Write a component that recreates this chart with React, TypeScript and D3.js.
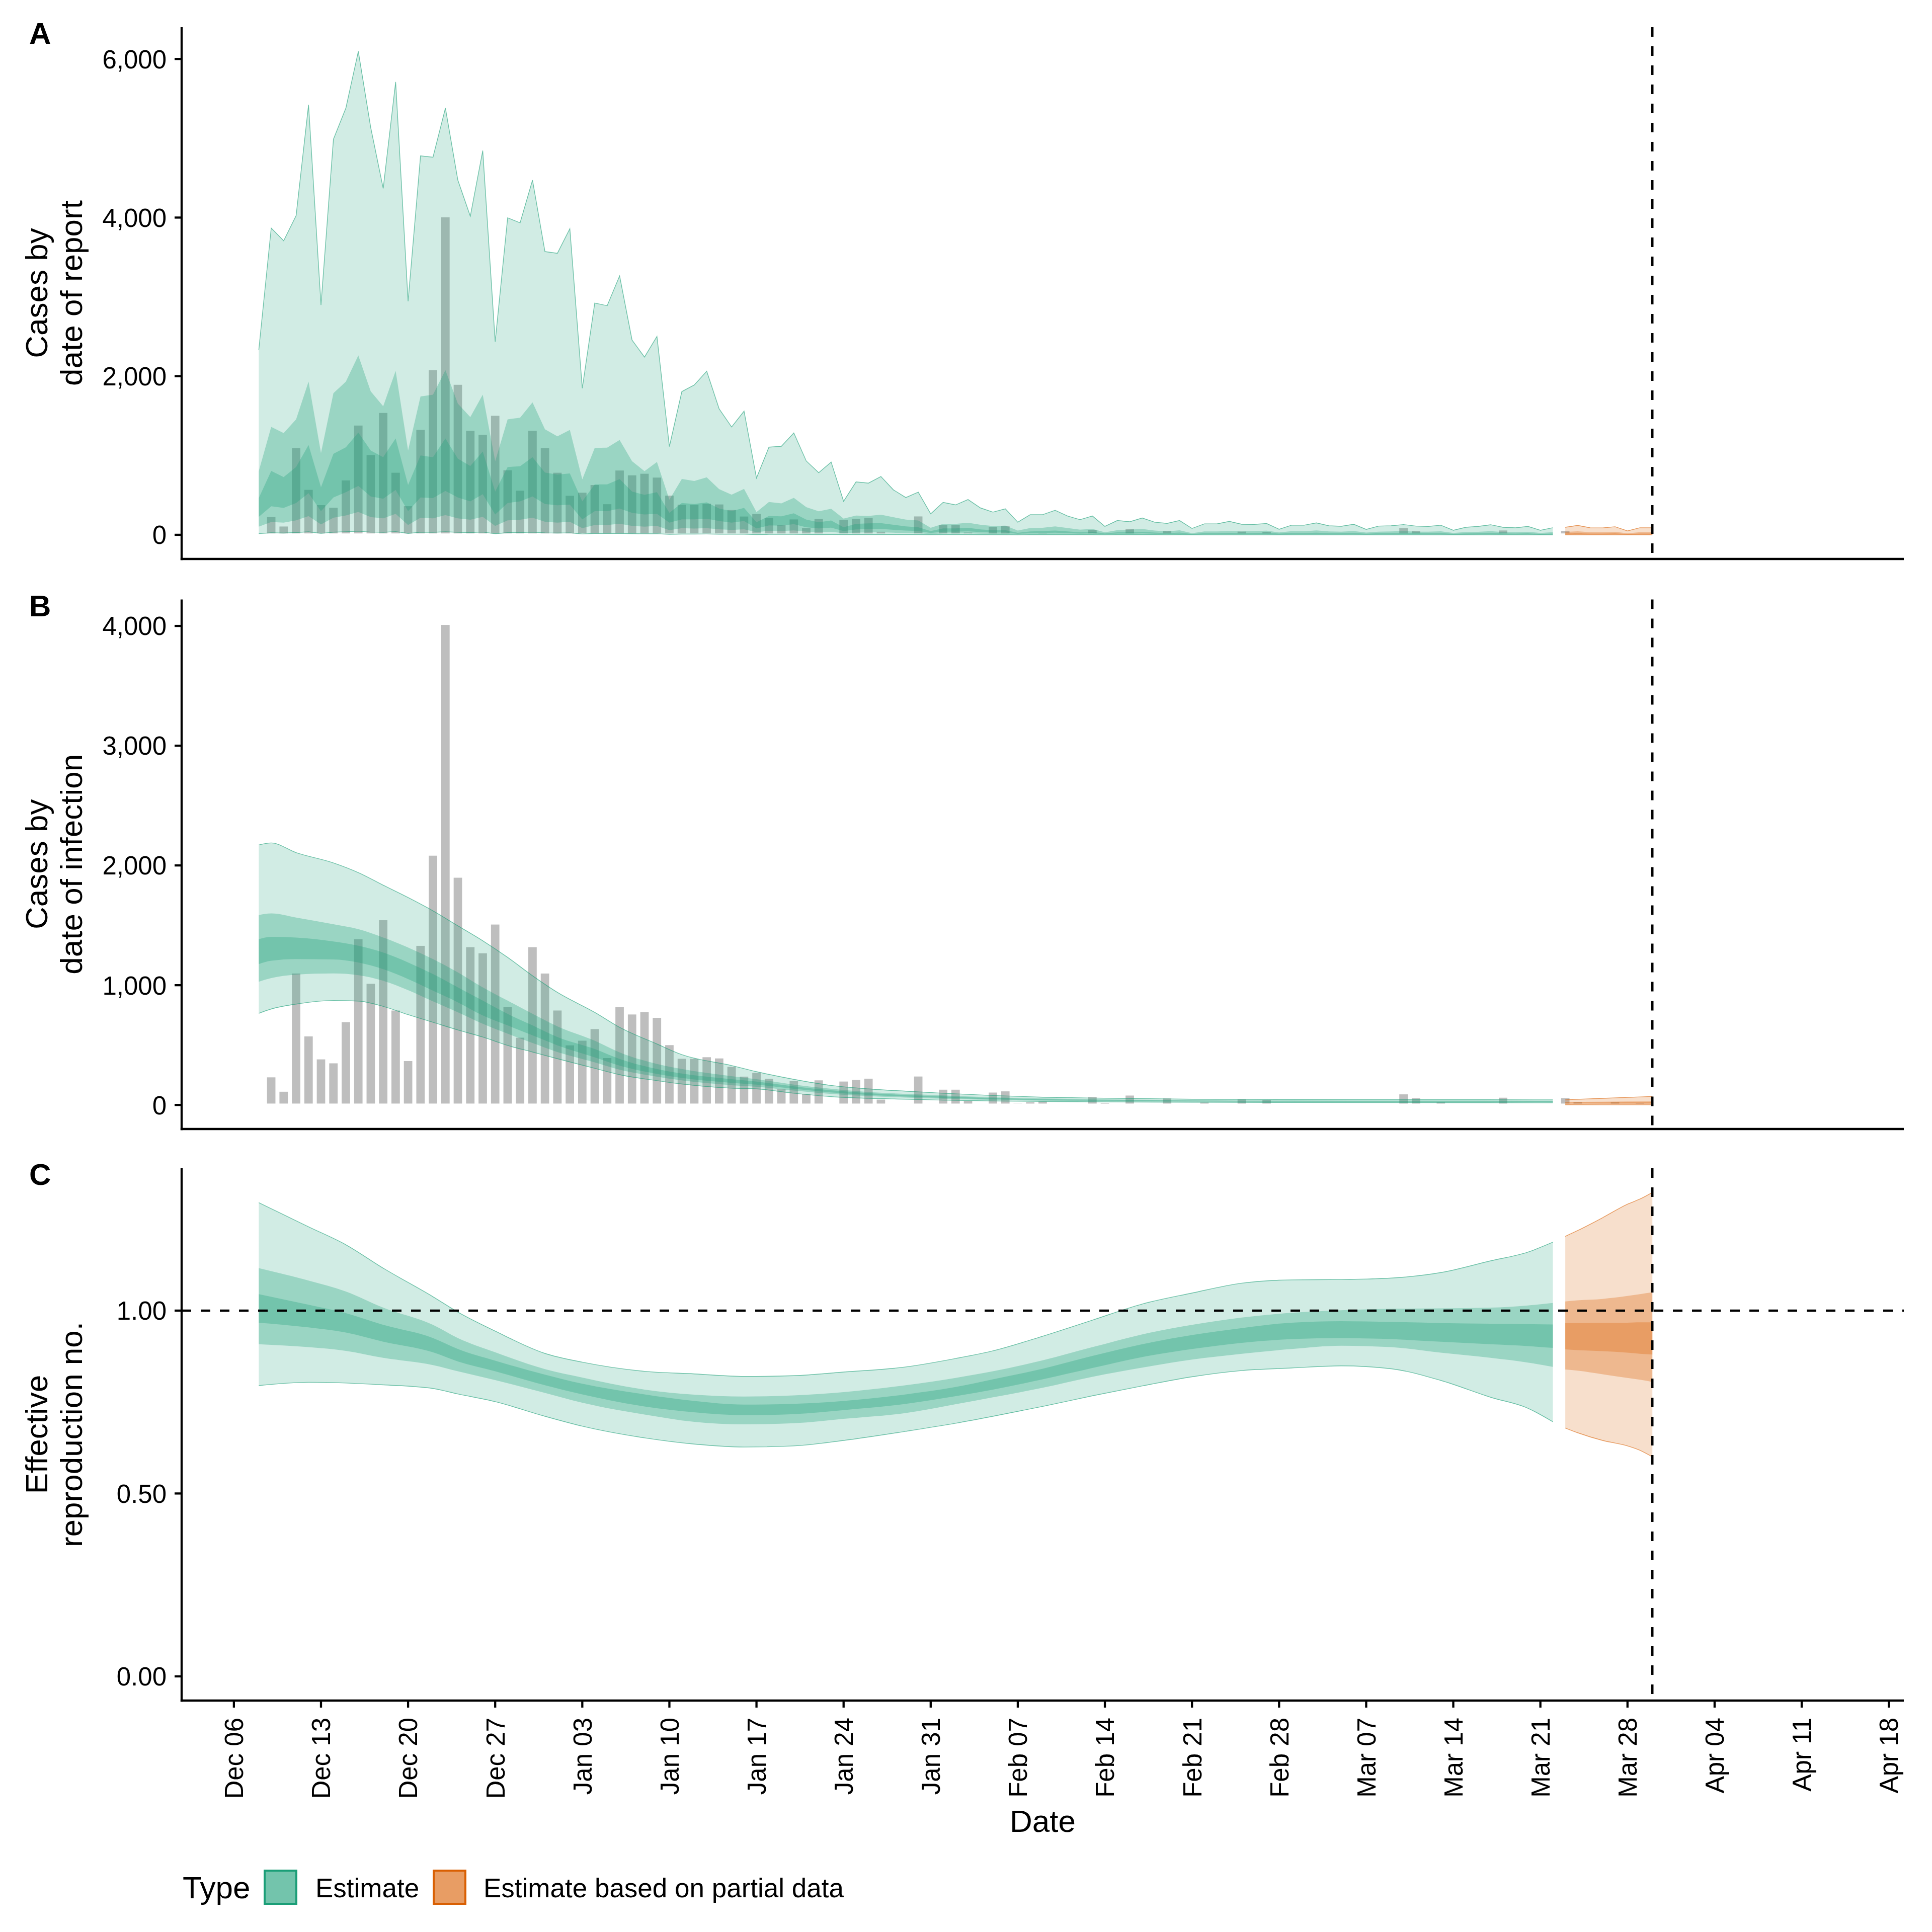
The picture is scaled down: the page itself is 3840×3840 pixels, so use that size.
import * as d3 from 'd3';

// ---- data ---------------------------------------------------------------

// confirmed cases by date of report (grey bars), one value per day from 2020-12-09
const reportStart = '2020-12-09';
const reportedCases = [
  242, 122, 1109, 584, 392, 359, 703, 1395, 1023, 1554, 800, 378, 1340, 2093, 4020, 1909,
  1329, 1278, 1518, 831, 573, 1329, 1109, 800, 509, 548, 645, 403, 828, 767, 787, 739,
  511, 397, 397, 410, 400, 330, 248, 280, 230, 143, 211, 102, 217, 12, 207, 220, 231, 56,
  0, 0, 249, 0, 139, 139, 46, 0, 115, 125, 24, 34, 40, 16, 0, 0, 78, 29, 0, 90, 0, 0, 66,
  4, 0, 32, 15, 8, 58, 0, 54, 8, 20, 0, 13, 0, 15, 0, 0, 0, 0, 100, 67, 15, 34, 0, 21, 0,
  0, 72, 0, 0, 0, 0, 68, 36, 0, 0, 35, 0, 28,
];

// panel A: cases by date of report, "Estimate", daily from 2020-12-08
const repStart = '2020-12-08';
const repUpper90 = [
  2331, 3868, 3708, 4025, 5422, 2897, 4988, 5381, 6096, 5133, 4368, 5711, 2943, 4778, 4761,
  5381, 4472, 4017, 4844, 2435, 3997, 3934, 4472, 3571, 3550, 3860, 1848, 2922, 2889, 3265,
  2455, 2241, 2501, 1113, 1806, 1889, 2063, 1588, 1360, 1559,
  716, 1105, 1116, 1285, 931, 783, 917, 423, 667, 652, 735, 567, 470, 538, 265, 409, 377,
  445, 339, 286, 328, 159, 254, 254, 309, 237, 191, 237, 106, 180, 165, 212, 159, 144, 180,
  80, 138, 138, 169, 133,
  131, 142, 70, 121, 121, 150, 114, 108, 133, 68, 110, 114, 129, 110, 106, 121, 57, 95, 106,
  127, 95, 89, 106, 57, 89,
];
const repUpper50 = [
  803, 1360, 1282, 1456, 1931, 1030, 1786, 1931, 2261, 1807, 1621, 2067, 1063, 1745, 1766,
  2075, 1654, 1484, 1766, 927, 1456, 1476, 1670, 1331, 1241, 1323, 699, 1096, 1099, 1195,
  927, 803, 918, 443, 704, 679, 724, 575, 505, 579,
  286, 413, 396, 466, 349, 296, 328, 205, 243, 237, 254, 222, 191, 180, 89, 138, 138, 152,
  127, 110, 116, 53, 85, 89, 106, 85, 64, 74, 32, 59, 64, 74, 53, 42, 57, 21, 42, 42, 47, 42,
  48, 52, 30, 45, 44, 55, 42, 40, 48, 28, 40, 42, 47, 40, 39, 44, 24, 35, 38, 46, 35, 33, 38,
  23, 33,
];
const repUpper20 = [
  463, 806, 727, 855, 1132, 599, 1021, 1103, 1289, 1062, 979, 1215, 628, 1000, 979, 1215,
  959, 868, 1050, 545, 855, 864, 979, 785, 760, 773, 421, 636, 636, 702, 545, 504, 537, 277,
  401, 388, 409, 331, 298, 339,
  159, 237, 233, 271, 191, 159, 180, 95, 138, 144, 148, 127, 106, 95, 47, 80, 80, 89, 68, 57,
  59, 25, 42, 47, 53, 42, 32, 38, 17, 32, 32, 38, 28, 21, 28, 11, 21, 21, 25, 21,
  24, 26, 15, 22, 22, 27, 21, 20, 24, 14, 20, 21, 23, 20, 19, 22, 12, 17, 19, 23, 17, 16, 19,
  11, 16,
];
const repLower20 = [
  227, 359, 339, 401, 525, 298, 471, 537, 616, 483, 455, 566, 298, 471, 463, 554, 471, 421,
  512, 256, 401, 421, 483, 388, 372, 380, 194, 298, 298, 331, 277, 256, 264, 153, 194, 194,
  202, 174, 153, 174,
  80, 118, 115, 135, 95, 80, 90, 48, 68, 72, 74, 63, 53, 48, 24, 40, 40, 44, 34, 28, 30, 13,
  21, 23, 26, 21, 16, 19, 9, 16, 16, 19, 14, 11, 14, 6, 11, 11, 12, 11,
  12, 13, 8, 11, 11, 13, 10, 10, 12, 7, 10, 10, 11, 10, 9, 11, 6, 8, 9, 11, 8, 8, 9, 5, 8,
];
const repLower50 = [
  103, 161, 153, 182, 236, 132, 215, 244, 289, 223, 207, 264, 124, 215, 207, 248, 207, 190,
  227, 112, 182, 190, 215, 165, 153, 165, 83, 124, 124, 140, 112, 103, 112, 58, 83, 79, 83,
  70, 62, 70,
  33, 50, 48, 56, 40, 33, 38, 20, 28, 30, 31, 26, 22, 20, 10, 17, 17, 18, 14, 12, 12, 5, 9,
  10, 11, 9, 7, 8, 4, 7, 7, 8, 6, 4, 6, 2, 4, 4, 5, 4,
  5, 5, 3, 5, 5, 5, 4, 4, 5, 3, 4, 4, 5, 4, 4, 4, 2, 3, 4, 5, 3, 3, 4, 2, 3,
];
const repLower90 = [
  15, 25, 22, 28, 38, 18, 33, 38, 45, 34, 31, 40, 17, 32, 31, 38, 31, 28, 34, 14, 27, 28, 32,
  24, 22, 24, 10, 17, 17, 19, 14, 12, 13, 6, 9, 9, 10, 8, 7, 8,
  3, 5, 5, 6, 4, 3, 4, 2, 3, 3, 3, 3, 2, 2, 1, 2, 2, 2, 1, 1, 1, 0, 1, 1, 1, 1, 1, 1, 0, 1,
  1, 1, 1, 0, 1, 0, 0, 0, 0, 0,
  0, 0, 0, 0, 0, 0, 0, 0, 0, 0, 0, 0, 0, 0, 0, 0, 0, 0, 0, 0, 0, 0, 0, 0, 0,
];
// panel A: "Estimate based on partial data", daily from 2021-03-23
const repPartStart = '2021-03-23';
const repPartUpper90 = [95, 119, 89, 87, 102, 49, 89, 89];
const repPartUpper50 = [36, 44, 33, 32, 38, 18, 33, 33];
const repPartUpper20 = [17, 21, 16, 16, 18, 9, 16, 16];
const repPartLower20 = [8, 10, 8, 8, 9, 4, 8, 8];
const repPartLower50 = [3, 4, 3, 3, 4, 2, 3, 3];
const repPartLower90 = [0, 0, 0, 0, 0, 0, 0, 0];

// panel B: cases by date of infection (smooth)
const infDates = [
  '2020-12-08', '2020-12-09', '2020-12-11', '2020-12-14', '2020-12-16', '2020-12-18',
  '2020-12-20', '2020-12-22', '2020-12-24', '2020-12-26', '2020-12-28', '2020-12-30',
  '2021-01-01', '2021-01-04', '2021-01-06', '2021-01-09', '2021-01-11', '2021-01-15',
  '2021-01-17', '2021-01-20', '2021-01-23', '2021-01-26', '2021-01-29', '2021-02-01',
  '2021-02-05', '2021-02-09', '2021-02-13', '2021-02-21', '2021-03-01', '2021-03-11',
  '2021-03-22',
];
const infUpper90 = [2171, 2188, 2107, 2021, 1940, 1835, 1732, 1621, 1496, 1371, 1232, 1079, 940, 773, 648, 509, 420, 329, 278, 214, 163, 134, 115, 98, 79, 65, 58, 48, 45, 44, 43];
const infUpper50 = [1585, 1599, 1565, 1509, 1468, 1398, 1315, 1218, 1107, 982, 871, 761, 656, 536, 439, 342, 300, 240, 215, 170, 135, 108, 92, 79, 64, 54, 48, 40, 37, 36, 35];
const infUpper20 = [1384, 1404, 1398, 1365, 1329, 1273, 1190, 1093, 982, 871, 760, 664, 567, 467, 384, 300, 262, 215, 195, 155, 122, 98, 83, 71, 57, 48, 43, 36, 33, 32, 31];
const infLower20 = [1176, 1204, 1218, 1215, 1190, 1134, 1051, 954, 857, 747, 664, 581, 498, 398, 328, 259, 225, 185, 170, 135, 105, 84, 70, 60, 48, 41, 36, 30, 28, 27, 26];
const infLower50 = [1029, 1059, 1088, 1098, 1084, 1037, 959, 865, 774, 678, 595, 517, 442, 356, 295, 236, 205, 165, 152, 120, 92, 74, 62, 52, 42, 35, 31, 26, 24, 23, 22];
const infLower90 = [765, 801, 842, 872, 867, 823, 754, 690, 626, 567, 497, 442, 386, 306, 253, 203, 175, 140, 134, 98, 69, 55, 48, 40, 33, 29, 26, 23, 20, 19, 18];
const infPartDates = ['2021-03-23', '2021-03-26', '2021-03-30'];
const infPartUpper90 = [43, 55, 71];
const infPartUpper50 = [25, 27, 30];
const infPartUpper20 = [20, 21, 22];
const infPartLower20 = [15, 14, 14];
const infPartLower50 = [10, 9, 8];
const infPartLower90 = [2, 1, 1];

// panel C: effective reproduction number
const rtDates = [
  '2020-12-08', '2020-12-12', '2020-12-15', '2020-12-18', '2020-12-22', '2020-12-24',
  '2020-12-27', '2020-12-31', '2021-01-03', '2021-01-08', '2021-01-12', '2021-01-16',
  '2021-01-20', '2021-01-24', '2021-01-29', '2021-02-02', '2021-02-05', '2021-02-09',
  '2021-02-13', '2021-02-17', '2021-02-21', '2021-02-25', '2021-03-01', '2021-03-05',
  '2021-03-09', '2021-03-13', '2021-03-17', '2021-03-20', '2021-03-22',
];
const rtUpper90 = [1.295, 1.229, 1.18, 1.116, 1.038, 0.996, 0.944, 0.883, 0.859, 0.834, 0.827, 0.82, 0.822, 0.832, 0.846, 0.869, 0.89, 0.93, 0.974, 1.018, 1.048, 1.075, 1.084, 1.085, 1.089, 1.104, 1.136, 1.16, 1.187];
const rtUpper50 = [1.116, 1.082, 1.052, 1.008, 0.961, 0.925, 0.886, 0.84, 0.817, 0.784, 0.77, 0.765, 0.768, 0.777, 0.796, 0.816, 0.834, 0.864, 0.9, 0.935, 0.961, 0.981, 0.994, 1.001, 1.005, 1.006, 1.008, 1.014, 1.021];
const rtUpper20 = [1.045, 1.016, 0.993, 0.961, 0.925, 0.895, 0.863, 0.825, 0.8, 0.771, 0.753, 0.743, 0.745, 0.753, 0.771, 0.791, 0.812, 0.841, 0.876, 0.908, 0.933, 0.952, 0.967, 0.971, 0.969, 0.966, 0.964, 0.963, 0.962];
const rtLower20 = [0.967, 0.954, 0.94, 0.915, 0.886, 0.861, 0.834, 0.796, 0.771, 0.738, 0.722, 0.714, 0.717, 0.728, 0.745, 0.766, 0.784, 0.812, 0.843, 0.873, 0.895, 0.912, 0.922, 0.925, 0.922, 0.915, 0.908, 0.903, 0.898];
const rtLower50 = [0.908, 0.9, 0.89, 0.871, 0.851, 0.834, 0.81, 0.775, 0.748, 0.716, 0.696, 0.689, 0.692, 0.704, 0.72, 0.744, 0.763, 0.789, 0.819, 0.844, 0.866, 0.882, 0.895, 0.904, 0.9, 0.885, 0.871, 0.858, 0.846];
const rtLower90 = [0.795, 0.804, 0.802, 0.797, 0.787, 0.772, 0.751, 0.711, 0.684, 0.652, 0.635, 0.627, 0.63, 0.645, 0.67, 0.692, 0.711, 0.738, 0.767, 0.794, 0.819, 0.836, 0.843, 0.849, 0.841, 0.809, 0.763, 0.733, 0.696];
const rtPartDates = ['2021-03-23', '2021-03-24', '2021-03-26', '2021-03-28', '2021-03-29', '2021-03-30'];
const rtPartUpper90 = [1.203, 1.219, 1.254, 1.291, 1.305, 1.323];
const rtPartUpper50 = [1.025, 1.028, 1.032, 1.04, 1.045, 1.05];
const rtPartUpper20 = [0.966, 0.966, 0.967, 0.967, 0.968, 0.968];
const rtPartLower20 = [0.894, 0.892, 0.889, 0.885, 0.882, 0.88];
const rtPartLower50 = [0.839, 0.836, 0.826, 0.816, 0.811, 0.805];
const rtPartLower90 = [0.679, 0.666, 0.645, 0.63, 0.618, 0.6];

const forecastDate = '2021-03-30';
const xLimits = ['2020-12-01T19:12:00Z', '2021-04-19T05:00:00Z'];

const ticksA = [0, 2000, 4000, 6000];
const ticksB = [0, 1000, 2000, 3000, 4000];
const ticksC = [0, 0.5, 1];

const legendTypes = ['Estimate', 'Estimate based on partial data'];
const typeColors = ['#1B9E77', '#D95F02'];

// ---- layout -------------------------------------------------------------

const FONT = '"Liberation Sans", Arial, Helvetica, sans-serif';
const LEFT = 361;
const RIGHT = 3784;
const AXIS_W = 4.3;
const TICK_LEN = 14;
const TICK_FS = 51;
const TITLE_FS = 62;
const LEGEND_FS = 53;

const parseDay = d3.utcParse('%Y-%m-%d');
const daily = (start: string, n: number) =>
  d3.range(n).map((i) => d3.utcDay.offset(parseDay(start) as Date, i));

interface BandSet {
  dates: Date[];
  lo90: number[]; hi90: number[];
  lo50: number[]; hi50: number[];
  lo20: number[]; hi20: number[];
}

function Ribbons({ set, color, x, y, curve }: {
  set: BandSet; color: string;
  x: d3.ScaleTime<number, number>; y: d3.ScaleLinear<number, number>;
  curve: d3.CurveFactory;
}) {
  const band = (lo: number[], hi: number[]) =>
    d3.area<number>()
      .x((_, i) => x(set.dates[i]))
      .y0((_, i) => y(lo[i]))
      .y1((_, i) => y(hi[i]))
      .curve(curve)(lo) || '';
  const edge = (vals: number[]) =>
    d3.line<number>()
      .x((_, i) => x(set.dates[i]))
      .y((v) => y(v))
      .curve(curve)(vals) || '';
  return (
    <g>
      <path d={band(set.lo90, set.hi90)} fill={color} fillOpacity={0.2} />
      <path d={edge(set.hi90)} fill="none" stroke={color} strokeWidth={1.4} strokeOpacity={0.6} />
      <path d={edge(set.lo90)} fill="none" stroke={color} strokeWidth={1.4} strokeOpacity={0.6} />
      <path d={band(set.lo50, set.hi50)} fill={color} fillOpacity={0.3} />
      <path d={band(set.lo20, set.hi20)} fill={color} fillOpacity={0.3} />
    </g>
  );
}

function YAxis({ y, ticks, fmt, top, bottom }: {
  y: d3.ScaleLinear<number, number>; ticks: number[]; fmt: (v: number) => string;
  top: number; bottom: number;
}) {
  return (
    <g>
      <line x1={LEFT} x2={LEFT} y1={top} y2={bottom + AXIS_W / 2} stroke="#000" strokeWidth={AXIS_W} />
      <line x1={LEFT - AXIS_W / 2} x2={RIGHT} y1={bottom} y2={bottom} stroke="#000" strokeWidth={AXIS_W} />
      {ticks.map((t) => (
        <g key={t}>
          <line x1={LEFT - TICK_LEN} x2={LEFT} y1={y(t)} y2={y(t)} stroke="#000" strokeWidth={AXIS_W} />
          <text x={LEFT - TICK_LEN - 16} y={y(t)} dy="0.36em" textAnchor="end" fontSize={TICK_FS} fill="#000">
            {fmt(t)}
          </text>
        </g>
      ))}
    </g>
  );
}

function Panel({ tag, title, top, bottom, y, ticks, fmt, children, vline }: any) {
  const mid = (top + bottom) / 2;
  return (
    <g>
      {children}
      <line x1={vline} x2={vline} y1={top} y2={bottom} stroke="#000" strokeWidth={4.5} strokeDasharray="19 19" />
      <YAxis y={y} ticks={ticks} fmt={fmt} top={top} bottom={bottom} />
      <text x={58} y={top + 33} fontSize={60} fontWeight="bold">{tag}</text>
      <text transform={`translate(94,${mid}) rotate(-90)`} textAnchor="middle" fontSize={TITLE_FS}>{title[0]}</text>
      <text transform={`translate(163,${mid}) rotate(-90)`} textAnchor="middle" fontSize={TITLE_FS}>{title[1]}</text>
    </g>
  );
}

export default function App() {
  const x = d3.scaleUtc()
    .domain(xLimits.map((s) => new Date(s)))
    .range([LEFT, RIGHT]);

  // data frames
  const barDates = daily(reportStart, reportedCases.length);
  const bars = reportedCases
    .map((v, i) => ({ date: barDates[i], v }))
    .filter((d) => d.v > 0);

  const repEst: BandSet = {
    dates: daily(repStart, repUpper90.length),
    lo90: repLower90, hi90: repUpper90, lo50: repLower50, hi50: repUpper50, lo20: repLower20, hi20: repUpper20,
  };
  const repPart: BandSet = {
    dates: daily(repPartStart, repPartUpper90.length),
    lo90: repPartLower90, hi90: repPartUpper90, lo50: repPartLower50, hi50: repPartUpper50, lo20: repPartLower20, hi20: repPartUpper20,
  };
  const infEst: BandSet = {
    dates: infDates.map((s) => parseDay(s) as Date),
    lo90: infLower90, hi90: infUpper90, lo50: infLower50, hi50: infUpper50, lo20: infLower20, hi20: infUpper20,
  };
  const infPart: BandSet = {
    dates: infPartDates.map((s) => parseDay(s) as Date),
    lo90: infPartLower90, hi90: infPartUpper90, lo50: infPartLower50, hi50: infPartUpper50, lo20: infPartLower20, hi20: infPartUpper20,
  };
  const rtEst: BandSet = {
    dates: rtDates.map((s) => parseDay(s) as Date),
    lo90: rtLower90, hi90: rtUpper90, lo50: rtLower50, hi50: rtUpper50, lo20: rtLower20, hi20: rtUpper20,
  };
  const rtPart: BandSet = {
    dates: rtPartDates.map((s) => parseDay(s) as Date),
    lo90: rtPartLower90, hi90: rtPartUpper90, lo50: rtPartLower50, hi50: rtPartUpper50, lo20: rtPartLower20, hi20: rtPartUpper20,
  };

  // ggplot-like 5% expansion on y
  const expand = (max: number) => [-0.05 * max, 1.05 * max];
  const pA = { top: 54, bottom: 1111 };
  const pB = { top: 1191.5, bottom: 2244 };
  const pC = { top: 2322, bottom: 3380 };
  const maxA = d3.max([...repUpper90, ...repPartUpper90, ...reportedCases]) as number;
  const maxB = d3.max([...infUpper90, ...infPartUpper90, ...reportedCases]) as number;
  const maxC = d3.max([...rtUpper90, ...rtPartUpper90]) as number;
  const yA = d3.scaleLinear().domain(expand(maxA)).range([pA.bottom, pA.top]);
  const yB = d3.scaleLinear().domain(expand(maxB)).range([pB.bottom, pB.top]);
  const yC = d3.scaleLinear().domain(expand(maxC)).range([pC.bottom, pC.top]);

  const vline = x(parseDay(forecastDate) as Date);
  const halfBar = (d: Date, s: number) => x(new Date(d.getTime() + s * 0.45 * 864e5));

  const barMarks = (y: d3.ScaleLinear<number, number>) => (
    <g>
      {bars.map((b) => (
        <rect
          key={b.date.getTime()}
          x={halfBar(b.date, -1)}
          width={halfBar(b.date, 1) - halfBar(b.date, -1)}
          y={y(b.v)}
          height={y(0) - y(b.v)}
          fill="#BEBEBE"
          stroke="#FFFFFF"
          strokeWidth={5.5}
        />
      ))}
    </g>
  );

  const xTicks = x.ticks(d3.utcSunday);
  const fmtDate = d3.utcFormat('%b %d');
  const fmtCount = d3.format(',');
  const fmtRt = d3.format('.2f');

  const keyX = [526, 862];
  const labelX = [627, 961];

  return (
    <div>
      <style>{'body{margin:0;background:#fff}'}</style>
      <svg width={3840} height={3840} fontFamily={FONT} style={{ display: 'block', background: '#fff' }}>
        <Panel tag="A" title={['Cases by', 'date of report']} top={pA.top} bottom={pA.bottom}
          y={yA} ticks={ticksA} fmt={fmtCount} vline={vline}>
          {barMarks(yA)}
          <Ribbons set={repEst} color={typeColors[0]} x={x} y={yA} curve={d3.curveLinear} />
          <Ribbons set={repPart} color={typeColors[1]} x={x} y={yA} curve={d3.curveLinear} />
        </Panel>

        <Panel tag="B" title={['Cases by', 'date of infection']} top={pB.top} bottom={pB.bottom}
          y={yB} ticks={ticksB} fmt={fmtCount} vline={vline}>
          {barMarks(yB)}
          <Ribbons set={infEst} color={typeColors[0]} x={x} y={yB} curve={d3.curveMonotoneX} />
          <Ribbons set={infPart} color={typeColors[1]} x={x} y={yB} curve={d3.curveMonotoneX} />
        </Panel>

        <Panel tag="C" title={['Effective', 'reproduction no.']} top={pC.top} bottom={pC.bottom}
          y={yC} ticks={ticksC} fmt={fmtRt} vline={vline}>
          <Ribbons set={rtEst} color={typeColors[0]} x={x} y={yC} curve={d3.curveMonotoneX} />
          <Ribbons set={rtPart} color={typeColors[1]} x={x} y={yC} curve={d3.curveMonotoneX} />
          <line x1={LEFT} x2={RIGHT} y1={yC(1)} y2={yC(1)} stroke="#000" strokeWidth={4.5} strokeDasharray="19 19" />
        </Panel>

        {/* shared date axis under panel C */}
        {xTicks.map((t) => (
          <g key={t.getTime()}>
            <line x1={x(t)} x2={x(t)} y1={pC.bottom} y2={pC.bottom + TICK_LEN} stroke="#000" strokeWidth={AXIS_W} />
            <text transform={`translate(${x(t)},${pC.bottom + 34}) rotate(-90)`} textAnchor="end" dy="0.36em" fontSize={TICK_FS}>
              {fmtDate(t)}
            </text>
          </g>
        ))}
        <text x={(LEFT + RIGHT) / 2} y={3641} textAnchor="middle" fontSize={TITLE_FS}>Date</text>

        {/* legend */}
        <text x={363} y={3773} fontSize={TITLE_FS}>Type</text>
        {legendTypes.map((label, i) => (
          <g key={label}>
            <rect x={keyX[i]} y={3718} width={63} height={66} fill={typeColors[i]} fillOpacity={0.2} />
            <rect x={keyX[i]} y={3718} width={63} height={66} fill={typeColors[i]} fillOpacity={0.3} />
            <rect x={keyX[i]} y={3718} width={63} height={66} fill={typeColors[i]} fillOpacity={0.3}
              stroke={typeColors[i]} strokeWidth={4} />
            <text x={labelX[i]} y={3771} fontSize={LEGEND_FS}>{label}</text>
          </g>
        ))}
      </svg>
    </div>
  );
}
